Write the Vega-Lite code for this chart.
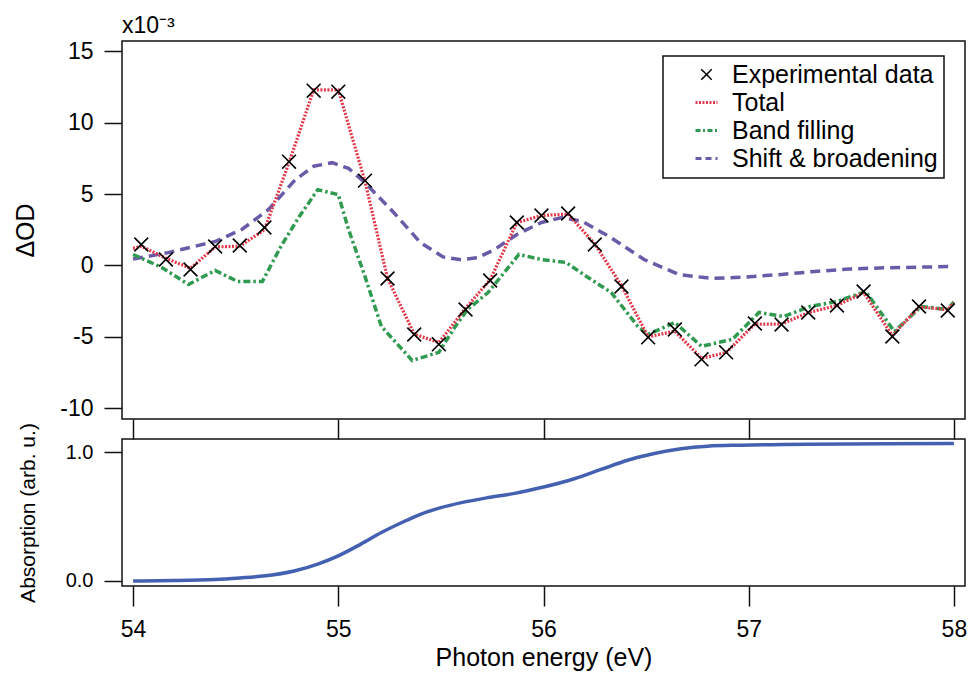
{
  "$schema": "https://vega.github.io/schema/vega-lite/v6.json",
  "padding": {"left": 12, "top": 14, "right": 5, "bottom": 0},
  "background": "white",
  "bounds": "flush",
  "spacing": 20,
  "config": {
    "font": "Liberation Sans",
    "view": {"stroke": "#111111", "strokeWidth": 1.5},
    "axis": {"domain": false, "grid": false, "tickColor": "#111111", "tickWidth": 1.5, "labelColor": "black", "titleColor": "black", "labelFont": "Liberation Sans", "titleFont": "Liberation Sans", "titleFontWeight": "normal"}
  },
  "datasets": {
    "exp": [
      {"x": 54.04, "y": 1.47}, {"x": 54.16, "y": 0.42}, {"x": 54.28, "y": -0.28}, {"x": 54.40, "y": 1.33},
      {"x": 54.52, "y": 1.40}, {"x": 54.64, "y": 2.66}, {"x": 54.76, "y": 7.27}, {"x": 54.88, "y": 12.24},
      {"x": 55.00, "y": 12.17}, {"x": 55.13, "y": 5.94}, {"x": 55.24, "y": -0.91}, {"x": 55.37, "y": -4.83},
      {"x": 55.49, "y": -5.52}, {"x": 55.62, "y": -3.08}, {"x": 55.74, "y": -1.05}, {"x": 55.87, "y": 3.01},
      {"x": 55.99, "y": 3.50}, {"x": 56.12, "y": 3.64}, {"x": 56.25, "y": 1.47}, {"x": 56.38, "y": -1.47},
      {"x": 56.51, "y": -5.03}, {"x": 56.64, "y": -4.48}, {"x": 56.77, "y": -6.57}, {"x": 56.89, "y": -6.08},
      {"x": 57.03, "y": -4.06}, {"x": 57.16, "y": -4.13}, {"x": 57.29, "y": -3.29}, {"x": 57.43, "y": -2.80},
      {"x": 57.56, "y": -1.82}, {"x": 57.70, "y": -4.97}, {"x": 57.83, "y": -2.87}, {"x": 57.97, "y": -3.15}
    ],
    "total": [
      {"x": 54.00, "y": 1.2}, {"x": 54.04, "y": 1.35}, {"x": 54.16, "y": 0.5}, {"x": 54.28, "y": -0.2}, {"x": 54.40, "y": 1.3},
      {"x": 54.52, "y": 1.35}, {"x": 54.64, "y": 2.5}, {"x": 54.76, "y": 7.2}, {"x": 54.88, "y": 12.3},
      {"x": 55.00, "y": 12.3}, {"x": 55.13, "y": 5.9}, {"x": 55.24, "y": -0.9}, {"x": 55.37, "y": -4.8},
      {"x": 55.49, "y": -5.4}, {"x": 55.62, "y": -3.0}, {"x": 55.74, "y": -1.0}, {"x": 55.87, "y": 3.0},
      {"x": 55.99, "y": 3.5}, {"x": 56.12, "y": 3.6}, {"x": 56.25, "y": 1.5}, {"x": 56.38, "y": -1.4},
      {"x": 56.51, "y": -5.0}, {"x": 56.64, "y": -4.6}, {"x": 56.77, "y": -6.5}, {"x": 56.89, "y": -6.1},
      {"x": 57.03, "y": -4.1}, {"x": 57.16, "y": -4.1}, {"x": 57.29, "y": -3.3}, {"x": 57.43, "y": -2.8},
      {"x": 57.56, "y": -1.9}, {"x": 57.70, "y": -4.9}, {"x": 57.83, "y": -2.9}, {"x": 57.97, "y": -3.1}, {"x": 58.0, "y": -2.6}
    ],
    "band": [
      {"x": 54.00, "y": 0.77}, {"x": 54.14, "y": -0.14}, {"x": 54.27, "y": -1.33}, {"x": 54.40, "y": -0.35},
      {"x": 54.51, "y": -1.12}, {"x": 54.63, "y": -1.12}, {"x": 54.72, "y": 1.33}, {"x": 54.81, "y": 3.43},
      {"x": 54.90, "y": 5.31}, {"x": 55.00, "y": 4.96}, {"x": 55.05, "y": 2.52}, {"x": 55.13, "y": -0.77},
      {"x": 55.21, "y": -4.27}, {"x": 55.36, "y": -6.65}, {"x": 55.49, "y": -6.08}, {"x": 55.57, "y": -4.27},
      {"x": 55.63, "y": -3.08}, {"x": 55.73, "y": -1.89}, {"x": 55.88, "y": 0.77}, {"x": 55.99, "y": 0.42},
      {"x": 56.11, "y": 0.21}, {"x": 56.21, "y": -0.77}, {"x": 56.33, "y": -1.89}, {"x": 56.46, "y": -4.27},
      {"x": 56.51, "y": -4.83}, {"x": 56.64, "y": -3.99}, {"x": 56.77, "y": -5.66}, {"x": 56.92, "y": -5.17},
      {"x": 57.05, "y": -3.29}, {"x": 57.17, "y": -3.57}, {"x": 57.30, "y": -2.87}, {"x": 57.43, "y": -2.52},
      {"x": 57.57, "y": -1.82}, {"x": 57.71, "y": -4.62}, {"x": 57.84, "y": -2.87}, {"x": 57.97, "y": -3.08},
      {"x": 58.00, "y": -2.55}
    ],
    "shift": [
      {"x": 54.00, "y": 0.45}, {"x": 54.17, "y": 0.90}, {"x": 54.40, "y": 1.68}, {"x": 54.53, "y": 2.52},
      {"x": 54.66, "y": 3.92}, {"x": 54.79, "y": 6.00}, {"x": 54.88, "y": 6.95}, {"x": 54.97, "y": 7.20},
      {"x": 55.05, "y": 6.80}, {"x": 55.13, "y": 5.80}, {"x": 55.27, "y": 3.71}, {"x": 55.40, "y": 1.61},
      {"x": 55.51, "y": 0.60}, {"x": 55.60, "y": 0.40}, {"x": 55.68, "y": 0.55}, {"x": 55.76, "y": 1.10},
      {"x": 55.87, "y": 2.17}, {"x": 55.99, "y": 3.01}, {"x": 56.09, "y": 3.36}, {"x": 56.19, "y": 3.08},
      {"x": 56.32, "y": 2.03}, {"x": 56.49, "y": 0.42}, {"x": 56.66, "y": -0.63}, {"x": 56.82, "y": -0.91},
      {"x": 56.99, "y": -0.80}, {"x": 57.16, "y": -0.63}, {"x": 57.32, "y": -0.42}, {"x": 57.49, "y": -0.25},
      {"x": 57.66, "y": -0.16}, {"x": 57.82, "y": -0.12}, {"x": 58.00, "y": -0.07}
    ],
    "abs": [
      {"x": 54.00, "y": 0.0}, {"x": 54.20, "y": 0.003}, {"x": 54.40, "y": 0.012}, {"x": 54.52, "y": 0.024},
      {"x": 54.62, "y": 0.036}, {"x": 54.79, "y": 0.080}, {"x": 54.90, "y": 0.132}, {"x": 55.00, "y": 0.196},
      {"x": 55.11, "y": 0.287}, {"x": 55.21, "y": 0.377}, {"x": 55.31, "y": 0.455}, {"x": 55.40, "y": 0.519},
      {"x": 55.50, "y": 0.571}, {"x": 55.60, "y": 0.610}, {"x": 55.73, "y": 0.649}, {"x": 55.86, "y": 0.682},
      {"x": 56.00, "y": 0.731}, {"x": 56.15, "y": 0.796}, {"x": 56.28, "y": 0.868}, {"x": 56.41, "y": 0.940},
      {"x": 56.54, "y": 0.992}, {"x": 56.67, "y": 1.029}, {"x": 56.80, "y": 1.049}, {"x": 56.96, "y": 1.057},
      {"x": 57.29, "y": 1.065}, {"x": 58.00, "y": 1.07}
    ]
  },
  "vconcat": [
    {
      "width": 843,
      "height": 378,
      "title": {"text": "x10⁻³", "anchor": "start", "frame": "group", "fontSize": 23, "fontWeight": "normal", "font": "Liberation Sans", "baseline": "alphabetic", "offset": -16, "color": "black"},
      "layer": [
        {
          "data": {"name": "shift"},
          "mark": {"type": "line", "strokeDash": [10, 6], "strokeWidth": 3.5, "strokeCap": "butt"},
          "encoding": {
            "x": {"field": "x", "type": "quantitative", "scale": {"domain": [53.946, 58.054], "nice": false, "zero": false}, "axis": {"orient": "bottom", "values": [54, 55, 56, 57, 58], "labels": false, "tickSize": 20, "title": null}},
            "y": {"field": "y", "type": "quantitative", "scale": {"domain": [-10.75, 15.72], "nice": false, "zero": false}, "axis": {"values": [-10, -5, 0, 5, 10, 15], "labelExpr": "datum.value + ''", "labelFontSize": 23, "tickSize": 18, "labelPadding": 11, "title": "ΔOD", "titleFontSize": 25, "titleX": -97, "titleBaseline": "middle"}},
            "color": {"datum": "Shift & broadening", "type": "nominal", "scale": {"domain": ["Experimental data", "Total", "Band filling", "Shift & broadening"], "range": ["black", "#e2394b", "#2f9a50", "#6a5aa8"]},
              "legend": {"orient": "none", "legendX": 541, "legendY": 15, "title": null, "labelFontSize": 25, "labelLimit": 400, "labelFont": "Liberation Sans", "labelColor": "black", "padding": 6, "rowPadding": 2, "symbolOffset": 25, "labelOffset": 13, "symbolType": "stroke", "symbolSize": 484, "strokeColor": "#111111",
                "encode": {
                  "legend": {"update": {"stroke": {"value": "#111111"}, "strokeWidth": {"value": 1.5}}},
                  "symbols": {"update": {
                    "shape": {"signal": "datum.value === 'Experimental data' ? 'M-1,-1L1,1M-1,1L1,-1' : 'stroke'"},
                    "size": {"signal": "datum.value === 'Experimental data' ? 110 : 484"},
                    "strokeDash": {"signal": "datum.value === 'Total' ? [2,1.5] : datum.value === 'Band filling' ? [5,2.5,2,2.5] : datum.value === 'Shift & broadening' ? [6,4] : [1,0]"},
                    "strokeWidth": {"signal": "datum.value === 'Experimental data' ? 1.5 : 3"},
                    "stroke": {"signal": "datum.value === 'Experimental data' ? 'black' : datum.value === 'Total' ? '#e2394b' : datum.value === 'Band filling' ? '#2f9a50' : '#6a5aa8'"},
                    "fill": {"value": "transparent"},
                    "opacity": {"value": 1}
                  }}
                }
              }
            }
          }
        },
        {
          "data": {"name": "band"},
          "mark": {"type": "line", "strokeDash": [7, 3, 2.5, 3], "strokeWidth": 3.5, "strokeCap": "butt"},
          "encoding": {
            "x": {"field": "x", "type": "quantitative"},
            "y": {"field": "y", "type": "quantitative"},
            "color": {"datum": "Band filling", "type": "nominal"}
          }
        },
        {
          "data": {"name": "total"},
          "mark": {"type": "line", "strokeDash": [2, 1.5], "strokeWidth": 3.2, "strokeCap": "butt"},
          "encoding": {
            "x": {"field": "x", "type": "quantitative"},
            "y": {"field": "y", "type": "quantitative"},
            "color": {"datum": "Total", "type": "nominal"}
          }
        },
        {
          "data": {"name": "exp"},
          "mark": {"type": "point", "shape": "M-1,-1L1,1M-1,1L1,-1", "size": 190, "strokeWidth": 1.6, "filled": false, "opacity": 1},
          "encoding": {
            "x": {"field": "x", "type": "quantitative"},
            "y": {"field": "y", "type": "quantitative"},
            "color": {"datum": "Experimental data", "type": "nominal"}
          }
        }
      ]
    },
    {
      "width": 843,
      "height": 147,
      "data": {"name": "abs"},
      "mark": {"type": "line", "color": "#4460b0", "strokeWidth": 3.5, "interpolate": "monotone"},
      "encoding": {
        "x": {"field": "x", "type": "quantitative", "scale": {"domain": [53.946, 58.054], "nice": false, "zero": false}, "axis": {"values": [54, 55, 56, 57, 58], "tickSize": 20, "labelFontSize": 23, "labelPadding": 12, "title": "Photon energy (eV)", "titleFontSize": 25, "titlePadding": 4}},
        "y": {"field": "y", "type": "quantitative", "scale": {"domain": [-0.039, 1.105], "nice": false, "zero": false}, "axis": {"values": [0, 1], "format": ".1f", "labelFontSize": 20, "tickSize": 18, "labelPadding": 11, "title": "Absorption (arb. u.)", "titleFontSize": 21, "titleX": -94, "titleBaseline": "middle"}}
      }
    }
  ]
}
